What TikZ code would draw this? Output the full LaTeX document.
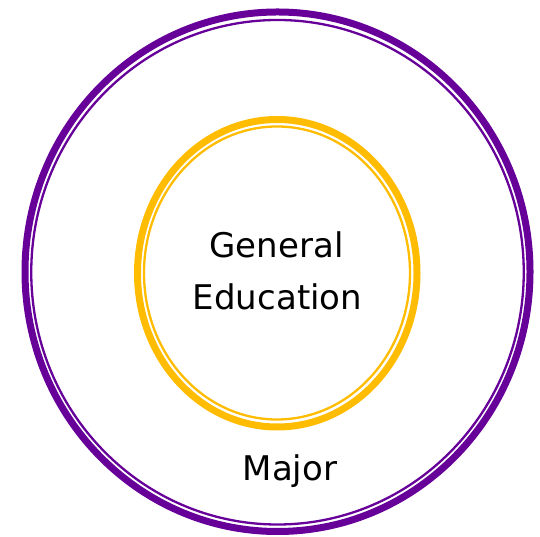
\documentclass[tikz,border=0pt]{standalone}
\usepackage{fontspec}
\setmainfont{DejaVu Sans}
\definecolor{outerpurple}{HTML}{660099}
\definecolor{inneryellow}{HTML}{FFBC00}
\begin{document}
\begin{tikzpicture}[x=1pt,y=1pt,
  thickring/.style={line width=7pt},
  thinring/.style={line width=2.3pt},
  lbl/.style={font=\fontsize{34}{52}\selectfont, align=center, inner sep=0pt}]
\useasboundingbox (0,0) rectangle (540,537);
% outer ring
\draw[thickring, outerpurple] (277.5,265.25) ellipse [x radius=252.5, y radius=259.75];
\draw[thinring, outerpurple] (277.5,264.75) ellipse [x radius=246.25, y radius=252.25];
% inner ring
\draw[thickring, inneryellow] (277.25,263.75) ellipse [x radius=139.75, y radius=153.75];
\draw[thinring, inneryellow] (277,264) ellipse [x radius=133, y radius=146.5];
% labels
\node[lbl, anchor=base] (ge) at (277.5,227) {Education};
\node[lbl, anchor=base] (ge1) at (276.5,279) {General};
\node[lbl, anchor=base] (major) at (290,56) {Major};
\end{tikzpicture}
\end{document}
